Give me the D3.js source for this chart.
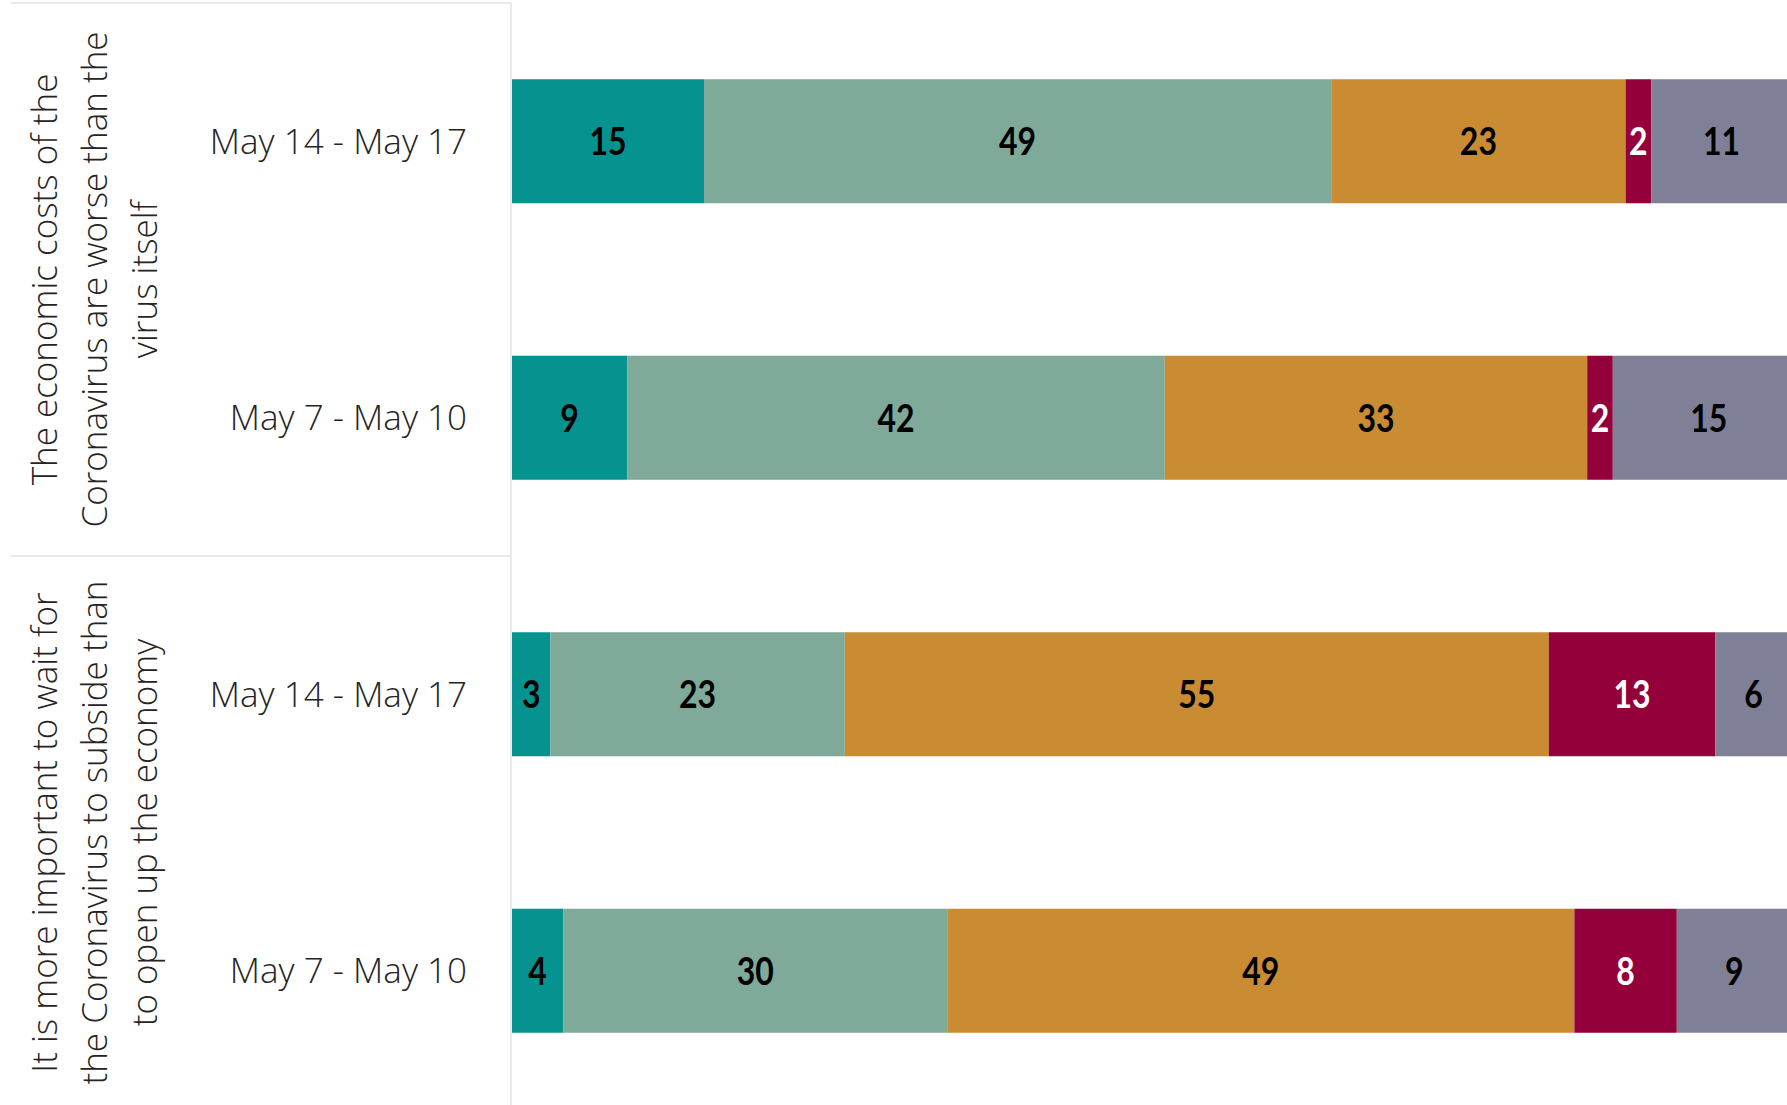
<!DOCTYPE html>
<html>
<head>
<meta charset="utf-8">
<script src="https://cdn.jsdelivr.net/npm/d3@7"></script>
<style>
  html, body { margin: 0; padding: 0; background: #ffffff; overflow: hidden; }
  svg { display: block; }
</style>
</head>
<body>
<svg id="chart" width="1787" height="1105"></svg>
<script>
// ---- data ----
const statements = [
  "The economic costs of the Coronavirus are worse than the virus itself",
  "It is more important to wait for the Coronavirus to subside than to open up the economy"
];
const statementLines = [
  ["The economic costs of the", "Coronavirus are worse than the", "virus itself"],
  ["It is more important to wait for", "the Coronavirus to subside than", "to open up the economy"]
];
const periods = ["May 14 - May 17", "May 7 - May 10"];
const seriesNames = ["Strongly agree", "Somewhat agree", "Somewhat disagree", "Strongly disagree", "Not sure"];
// values per row: [stmt1 May14-17, stmt1 May7-10, stmt2 May14-17, stmt2 May7-10]
const stronglyAgree    = [15, 9, 3, 4];
const somewhatAgree    = [49, 42, 23, 30];
const somewhatDisagree = [23, 33, 55, 49];
const stronglyDisagree = [2, 2, 13, 8];
const notSure          = [11, 15, 6, 9];
const seriesColors = ["#069390", "#7fa998", "#c98c32", "#93003a", "#7f8097"];
const labelColors  = ["#000000", "#000000", "#000000", "#ffffff", "#000000"];

const seriesValues = [stronglyAgree, somewhatAgree, somewhatDisagree, stronglyDisagree, notSure];
const rows = [];
statements.forEach((s, si) => periods.forEach((p, pi) => rows.push({ key: si + "|" + p, stmt: si, period: p, idx: si * periods.length + pi })));

// ---- scales ----
const svg = d3.select("#chart");
const x = d3.scaleLinear().domain([0, 100]).range([512, 1792]);
const y = d3.scaleBand().domain(rows.map(r => r.key)).range([3, 1109]).paddingInner(0.5515).paddingOuter(0.27575);

// stacked data
const stackInput = rows.map(r => {
  const o = { key: r.key };
  seriesNames.forEach((n, i) => o[n] = seriesValues[i][r.idx]);
  return o;
});
const stacked = d3.stack().keys(seriesNames)(stackInput);

// ---- left panel frame ----
const frame = svg.append("g").attr("stroke", "#e3e3e3").attr("stroke-width", 1.5).attr("fill", "none");
frame.append("line").attr("x1", 11).attr("x2", 511).attr("y1", 3).attr("y2", 3);
frame.append("line").attr("x1", 511).attr("x2", 511).attr("y1", 3).attr("y2", 1105);
const groupBounds = statements.map((s, si) => {
  const keys = rows.filter(r => r.stmt === si).map(r => r.key);
  const top = si === 0 ? y.range()[0] : (y(keys[0]) + y.bandwidth() / 2 + y(rows[si * 2 - 1].key) + y.bandwidth() / 2) / 2;
  return top;
});
frame.append("line").attr("x1", 11).attr("x2", 511).attr("y1", groupBounds[1]).attr("y2", groupBounds[1]);

// ---- bars ----
const layers = svg.append("g").selectAll("g").data(stacked).join("g")
  .attr("fill", (d, i) => seriesColors[i]);
layers.selectAll("rect").data(d => d.map(v => ({ v, key: v.data.key }))).join("rect")
  .attr("x", d => x(d.v[0]))
  .attr("y", d => y(d.key))
  .attr("width", d => x(d.v[1]) - x(d.v[0]))
  .attr("height", y.bandwidth());

// ---- value labels ----
const lbl = svg.append("g").selectAll("g").data(stacked).join("g")
  .attr("fill", (d, i) => labelColors[i]);
lbl.selectAll("text").data(d => d.map(v => ({ v, key: v.data.key, val: v[1] - v[0] }))).join("text")
  .attr("transform", d => `translate(${(x(d.v[0]) + x(d.v[1])) / 2},${y(d.key) + y.bandwidth() / 2}) scale(0.82,1)`)
  .attr("text-anchor", "middle")
  .attr("dy", "0.36em")
  .attr("font-family", "'Lato', 'DejaVu Sans', sans-serif")
  .attr("font-weight", 700)
  .attr("font-size", 39)
  .text(d => d.val);

// ---- period labels ----
svg.append("g").selectAll("text").data(rows).join("text")
  .attr("x", 467)
  .attr("y", d => y(d.key) + y.bandwidth() / 2)
  .attr("dy", "0.35em")
  .attr("text-anchor", "end")
  .attr("font-family", "'Open Sans', 'Noto Sans', sans-serif")
  .attr("font-weight", 300)
  .attr("font-size", 35)
  .attr("fill", "#252423")
  .text(d => d.period);

// ---- statement labels (rotated) ----
const baselines = [57, 107, 157];
statements.forEach((s, si) => {
  const keys = rows.filter(r => r.stmt === si).map(r => r.key);
  const cy = (y(keys[0]) + y(keys[keys.length - 1]) + y.bandwidth()) / 2;
  const t = svg.append("text")
    .attr("transform", `translate(0,${cy}) rotate(-90)`)
    .attr("text-anchor", "middle")
    .attr("font-family", "'Open Sans', 'Noto Sans', sans-serif")
    .attr("font-weight", 300)
    .attr("font-size", 35)
    .attr("fill", "#252423");
  statementLines[si].forEach((line, li) => {
    t.append("tspan").attr("x", 0).attr("y", baselines[li]).text(line);
  });
});
</script>
</body>
</html>
